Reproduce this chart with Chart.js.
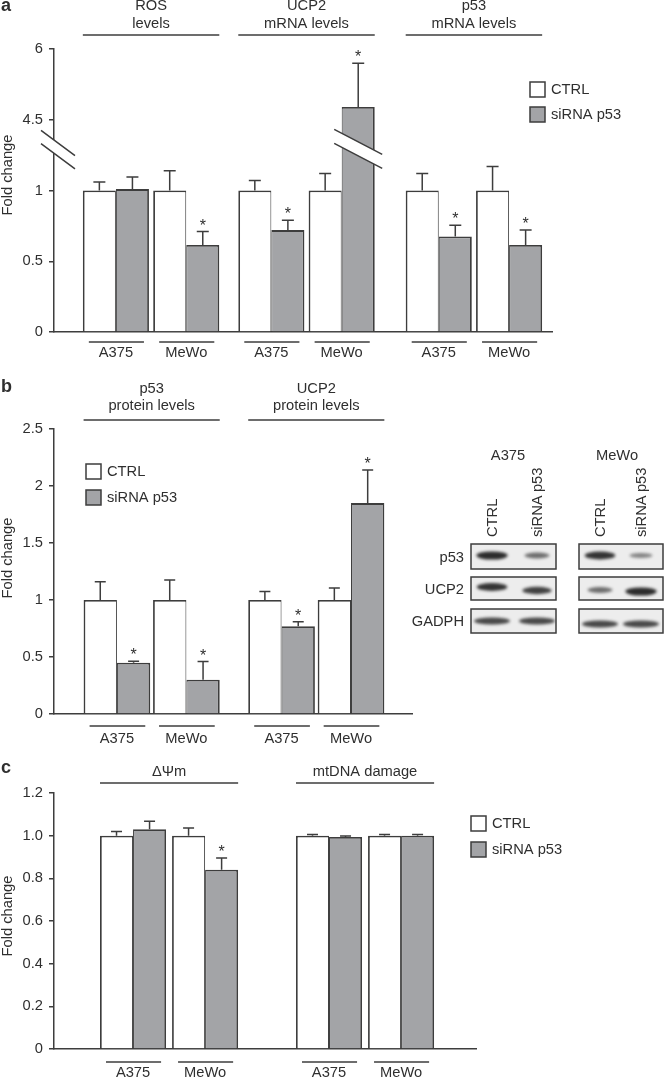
<!DOCTYPE html>
<html>
<head>
<meta charset="utf-8">
<script src="https://cdn.jsdelivr.net/npm/chart.js"></script>
<style>
  body { margin: 0; background: #fff; }
  #fig { position: relative; width: 665px; height: 1080px; font-family: "Liberation Sans", Arial, Helvetica, sans-serif; font-size: 14.7px; color: #2f2f2f; }
  #fig canvas { position: absolute; left: 0; }
  .lbl { position: absolute; line-height: 16px; white-space: nowrap; }
  .rot { position: absolute; line-height: 16px; white-space: nowrap; transform-origin: 0 0; transform: rotate(-90deg); }
</style>
</head>
<body>
<div id="fig">
  <canvas id="chartA" width="665" height="365" style="top:0"></canvas>
  <canvas id="chartB" width="665" height="380" style="top:365px"></canvas>
  <canvas id="chartC" width="665" height="335" style="top:745px"></canvas>
  <canvas id="blot" width="205" height="110" style="left:460px;top:530px"></canvas>
</div>
<script>
// Series
const seriesNames = ['CTRL', 'siRNA p53'];

// Panel a: ROS, UCP2 mRNA, p53 mRNA
const aCells = ['A375', 'MeWo', 'A375', 'MeWo', 'A375', 'MeWo'];
const aGroups = [['ROS', 'levels'], ['UCP2', 'mRNA levels'], ['p53', 'mRNA levels']];
const aCtrl = [1, 1, 1, 1, 1, 1];
const aCtrlErr = [0.06, 0.14, 0.07, 0.12, 0.12, 0.17];
const aSirna = [1.01, 0.615, 0.72, 4.77, 0.675, 0.615];
const aSirnaErr = [0.085, 0.095, 0.07, 0.93, 0.08, 0.105];
const aSirnaStar = [false, true, true, true, true, true];
const aTicks = [0, 0.5, 1, 4.5, 6];

// Panel b: proteinas
const bCells = ['A375', 'MeWo', 'A375', 'MeWo'];
const bGroups = [['p53', 'protein levels'], ['UCP2', 'protein levels']];
const bCtrl = [1, 1, 1, 1];
const bCtrlErr = [0.16, 0.175, 0.075, 0.105];
const bSirna = [0.45, 0.30, 0.77, 1.85];
const bSirnaErr = [0.012, 0.16, 0.04, 0.29];
const bSirnaStar = [true, true, true, true];
const bTicks = [0, 0.5, 1, 1.5, 2, 2.5];

// Panel c: potencial mitocondrial y dano mtDNA
const cCells = ['A375', 'MeWo', 'A375', 'MeWo'];
const cGroups = [['\u0394\u03A8m'], ['mtDNA damage']];
const cCtrl = [1, 1, 1, 1];
const cCtrlErr = [0.02, 0.036, 0.005, 0.005];
const cSirna = [1.03, 0.84, 0.994, 1.0];
const cSirnaErr = [0.037, 0.055, 0.005, 0.005];
const cSirnaStar = [false, true, false, false];
const cTicks = [0, 0.2, 0.4, 0.6, 0.8, 1.0, 1.2];

// Western blot (intensidad relativa de banda: A375 CTRL, A375 siRNA, MeWo CTRL, MeWo siRNA)
const blotCells = ['A375', 'MeWo'];
const blotRows = ['p53', 'UCP2', 'GADPH'];
const bandLevels = [
  [0.95, 0.5, 0.9, 0.35],
  [0.9, 0.8, 0.5, 0.95],
  [0.75, 0.75, 0.75, 0.75]
];

const FONT = '"Liberation Sans", Arial, Helvetica, sans-serif';
const FS = 14.7;
const EDGE = '#3d3d3d';
const GREY = '#a3a4a7';
const TEXT = '#2f2f2f';
const font = (s, w) => `${w || ''} ${s}px ${FONT}`;

Chart.defaults.font.family = FONT;
Chart.defaults.font.size = FS;
Chart.defaults.color = TEXT;

// eje cortado del panel a: por encima de 1.3 se comprime (4.5 -> 1.5, 6 -> 2)
function axisA(v) { return v > 1.3 ? 1.5 + (v - 4.5) / 3 : v; }
const same = v => v;

// Escala de categorias con huecos extra entre pares (A375/MeWo)
class GappedCategory extends Chart.CategoryScale {
  shifted(v) {
    const o = this.options;
    let extra = 0;
    if (v >= 1.5) extra += o.gapA || 0;
    if (v >= 3.5) extra += o.gapB || 0;
    return v + extra;
  }
  getPixelForValue(value) {
    if (typeof value !== 'number') value = this.parse(value);
    if (value === null || isNaN(value)) return NaN;
    const o = this.options;
    const n = this.getLabels().length;
    const span = (n - 1) + (o.gapA || 0) + (o.gapB || 0) + o.padStart + o.padEnd;
    return this.getPixelForDecimal((this.shifted(value) + o.padStart) / span);
  }
}
GappedCategory.id = 'gapped';
GappedCategory.defaults = Chart.CategoryScale.defaults;
Chart.register(GappedCategory);

function hline(ctx, x1, x2, y) {
  ctx.beginPath(); ctx.moveTo(x1, y); ctx.lineTo(x2, y); ctx.stroke();
}

// dos rayas paralelas con banda blanca en medio (corte de eje / barra)
function slashPair(ctx, cx, cy, half, slope, off) {
  ctx.save();
  ctx.fillStyle = '#fff';
  ctx.beginPath();
  ctx.moveTo(cx - half, cy - off - slope * half);
  ctx.lineTo(cx + half, cy - off + slope * half);
  ctx.lineTo(cx + half, cy + off + slope * half);
  ctx.lineTo(cx - half, cy + off - slope * half);
  ctx.closePath();
  ctx.fill();
  ctx.strokeStyle = EDGE;
  ctx.lineWidth = 1.5;
  ctx.beginPath();
  ctx.moveTo(cx - half, cy - off - slope * half); ctx.lineTo(cx + half, cy - off + slope * half);
  ctx.moveTo(cx - half, cy + off - slope * half); ctx.lineTo(cx + half, cy + off + slope * half);
  ctx.stroke();
  ctx.restore();
}

function makeDecor(p) {
  return {
    id: 'decor',
    afterDatasetsDraw(chart) {
      const ctx = chart.ctx;
      const ys = chart.scales.y;
      const sets = [[p.ctrl, p.ctrlErr, null], [p.sirna, p.sirnaErr, p.sirnaStar]];
      ctx.save();
      ctx.strokeStyle = EDGE;
      ctx.lineWidth = 1.5;
      ctx.fillStyle = TEXT;
      ctx.font = font(16);
      ctx.textAlign = 'center';
      ctx.textBaseline = 'alphabetic';
      sets.forEach(([vals, errs, stars], d) => {
        chart.getDatasetMeta(d).data.forEach((bar, i) => {
          const top = ys.getPixelForValue(p.toAxis(vals[i] + errs[i]));
          ctx.beginPath();
          ctx.moveTo(bar.x, bar.y); ctx.lineTo(bar.x, top);
          ctx.moveTo(bar.x - p.cap / 2, top); ctx.lineTo(bar.x + p.cap / 2, top);
          ctx.stroke();
          if (stars && stars[i]) ctx.fillText('*', bar.x, top - 1);
        });
      });
      ctx.restore();
      if (p.barBreak) {
        const bar = chart.getDatasetMeta(1).data[p.barBreak.index];
        slashPair(ctx, bar.x, ys.getPixelForValue(p.barBreak.at), 24, 0.52, 7);
      }
    },
    afterDraw(chart) {
      const ctx = chart.ctx;
      const m0 = chart.getDatasetMeta(0).data;
      const m1 = chart.getDatasetMeta(1).data;
      const edgeL = i => m0[i].x - m0[i].width / 2;
      const edgeR = i => m1[i].x + m1[i].width / 2;
      ctx.save();
      ctx.strokeStyle = EDGE;
      ctx.lineWidth = 1.5;
      ctx.fillStyle = TEXT;
      ctx.font = font(FS);
      ctx.textAlign = 'center';
      ctx.textBaseline = 'middle';

      // cabeceras de grupo
      p.groups.forEach((lines, g) => {
        const l = edgeL(g * 2), r = edgeR(g * 2 + 1);
        hline(ctx, l, r, p.headerLineY);
        lines.forEach((t, k) => ctx.fillText(t, (l + r) / 2, p.headerTextY[k]));
      });

      // subrayado de lineas celulares
      m0.forEach((bar, i) => hline(ctx, edgeL(i) + 6, edgeR(i) - 5, p.underlineY));

      // leyenda
      const lg = p.legend;
      [['#ffffff', seriesNames[0]], [GREY, seriesNames[1]]].forEach(([col, name], k) => {
        const y = lg.y + k * lg.gap;
        ctx.fillStyle = col;
        ctx.fillRect(lg.x, y, 15, 15);
        ctx.strokeRect(lg.x, y, 15, 15);
        ctx.fillStyle = TEXT;
        ctx.textAlign = 'left';
        ctx.fillText(name, lg.x + 21, y + 8);
      });

      // titulo eje y
      ctx.save();
      ctx.translate(8, p.titleY);
      ctx.rotate(-Math.PI / 2);
      ctx.textAlign = 'center';
      ctx.fillText('Fold change', 0, 0);
      ctx.restore();

      // letra del panel
      ctx.font = font(18, 'bold');
      ctx.textAlign = 'left';
      ctx.textBaseline = 'alphabetic';
      ctx.fillText(p.letter, 1, p.letterY);
      ctx.restore();

      // corte del eje y
      if (p.axisBreak) {
        const ys = chart.scales.y;
        slashPair(ctx, ys.right + 4, ys.getPixelForValue(p.axisBreak) + 3, 17, 0.74, 6.6);
      }
    }
  };
}

function makeChart(id, p) {
  return new Chart(document.getElementById(id), {
    type: 'bar',
    data: {
      labels: p.cells,
      datasets: [
        {
          label: seriesNames[0],
          data: p.ctrl.map(p.toAxis),
          backgroundColor: '#ffffff',
          borderColor: EDGE,
          borderWidth: { top: 1.8, left: 1.8, right: 1, bottom: 0 },
          categoryPercentage: p.catPct,
          barPercentage: 1
        },
        {
          label: seriesNames[1],
          data: p.sirna.map(p.toAxis),
          backgroundColor: GREY,
          borderColor: EDGE,
          borderWidth: { top: 1.8, left: 1, right: 1.8, bottom: 0 },
          categoryPercentage: p.catPct,
          barPercentage: 1
        }
      ]
    },
    options: {
      responsive: false,
      animation: false,
      devicePixelRatio: 1,
      events: [],
      layout: { padding: p.padding },
      plugins: { legend: { display: false }, tooltip: { enabled: false } },
      scales: {
        x: {
          type: 'gapped',
          offset: true,
          gapA: p.gapA,
          gapB: p.gapB,
          padStart: p.padStart,
          padEnd: p.padEnd,
          afterFit: s => { s.height = p.xHeight; },
          grid: { display: false, drawTicks: false },
          border: { display: true, color: EDGE, width: 1.5 },
          ticks: {
            autoSkip: false, maxRotation: 0, padding: p.xPad, color: TEXT,
            font: { size: FS },
            callback: function (v) { return this.getLabelForValue(v); }
          }
        },
        y: {
          min: 0,
          max: p.yMax,
          afterFit: s => { s.width = 54; },
          afterBuildTicks: s => { s.ticks = p.ticks.map(t => ({ value: p.toAxis(t) })); },
          grid: { drawOnChartArea: false, drawTicks: true, tickLength: 5, color: EDGE, lineWidth: 1.5 },
          border: { display: true, color: EDGE, width: 1.5 },
          ticks: {
            autoSkip: false, padding: 6, color: TEXT, font: { size: FS },
            callback: (v, i) => p.tickText(p.ticks[i])
          }
        }
      }
    },
    plugins: [makeDecor(p)]
  });
}

makeChart('chartA', {
  cells: aCells, groups: aGroups, ctrl: aCtrl, ctrlErr: aCtrlErr,
  sirna: aSirna, sirnaErr: aSirnaErr, sirnaStar: aSirnaStar,
  ticks: aTicks, tickText: t => String(t), toAxis: axisA, yMax: 2,
  padding: { left: 0, top: 49, right: 113, bottom: 0 }, xHeight: 33, xPad: 12,
  gapA: 0.21, gapB: 0.38, padStart: 0.88, padEnd: 0.61, catPct: 0.94, cap: 12,
  headerLineY: 35, headerTextY: [6, 24], underlineY: 342,
  legend: { x: 530, y: 82, gap: 25 }, titleY: 175, letter: 'a', letterY: 11,
  axisBreak: 1.31, barBreak: { index: 3, at: 1.294 }
});

makeChart('chartB', {
  cells: bCells, groups: bGroups, ctrl: bCtrl, ctrlErr: bCtrlErr,
  sirna: bSirna, sirnaErr: bSirnaErr, sirnaStar: bSirnaStar,
  ticks: bTicks, tickText: t => String(t), toAxis: same, yMax: 2.5,
  padding: { left: 0, top: 64, right: 253, bottom: 0 }, xHeight: 31, xPad: 16,
  gapA: 0.37, padStart: 0.906, padEnd: 0.878, catPct: 0.96, cap: 11,
  headerLineY: 55, headerTextY: [24, 41], underlineY: 361,
  legend: { x: 86, y: 99, gap: 26 }, titleY: 193, letter: 'b', letterY: 27
});

makeChart('chartC', {
  cells: cCells, groups: cGroups, ctrl: cCtrl, ctrlErr: cCtrlErr,
  sirna: cSirna, sirnaErr: cSirnaErr, sirnaStar: cSirnaStar,
  ticks: cTicks, tickText: t => (t === 0 ? '0' : t.toFixed(1)), toAxis: same, yMax: 1.2,
  padding: { left: 0, top: 48, right: 189, bottom: 0 }, xHeight: 31, xPad: 15,
  gapA: 0.72, padStart: 1.097, padEnd: 1.04, catPct: 0.917, cap: 11,
  headerLineY: 38, headerTextY: [27], underlineY: 317,
  legend: { x: 471, y: 71, gap: 26 }, titleY: 171, letter: 'c', letterY: 28
});

// Western blot del panel b
function drawBlot() {
  const fig = document.getElementById('fig');
  const addText = (cls, text, style) => {
    const d = document.createElement('div');
    d.className = cls;
    d.textContent = text;
    Object.assign(d.style, style);
    fig.appendChild(d);
  };
  const frames = [{ x0: 471, x1: 556, lanes: [492, 537], head: 508 }, { x0: 579, x1: 663, lanes: [600, 641], head: 617 }];
  const rows = [{ y0: 544, y1: 569, dy: [-1, -1, -1, -1] }, { y0: 577, y1: 600, dy: [-1.5, 2, 1.5, 3] }, { y0: 609, y1: 633, dy: [0, 0, 3, 3] }];

  frames.forEach((f, fi) => {
    addText('lbl', blotCells[fi], { left: (f.head - 40) + 'px', width: '80px', textAlign: 'center', top: '447px' });
    f.lanes.forEach((cx, li) => {
      addText('rot', seriesNames[li], { left: (cx - 8) + 'px', top: '537px' });
    });
  });
  blotRows.forEach((name, ri) => {
    const r = rows[ri];
    addText('lbl', name, { right: (665 - 464) + 'px', top: ((r.y0 + r.y1) / 2 - 8) + 'px' });
  });

  const ctx = document.getElementById('blot').getContext('2d');
  ctx.translate(-460, -530);
  frames.forEach((f, fi) => rows.forEach((r, ri) => {
    ctx.fillStyle = '#ededed';
    ctx.fillRect(f.x0, r.y0, f.x1 - f.x0, r.y1 - r.y0);
    ctx.save();
    ctx.beginPath();
    ctx.rect(f.x0, r.y0, f.x1 - f.x0, r.y1 - r.y0);
    ctx.clip();
    ctx.filter = 'blur(1.6px)';
    f.lanes.forEach((cx, li) => {
      const k = bandLevels[ri][fi * 2 + li];
      const yc = (r.y0 + r.y1) / 2 + r.dy[fi * 2 + li];
      const hw = ri === 2 ? 18 : 9 + 7 * k;
      ctx.fillStyle = `rgba(25,25,25,${0.25 + 0.7 * k})`;
      ctx.beginPath();
      ctx.ellipse(cx, yc, hw, 1.6 + 2.6 * k, 0, 0, Math.PI * 2);
      ctx.fill();
    });
    ctx.restore();
    ctx.strokeStyle = EDGE;
    ctx.lineWidth = 1.5;
    ctx.strokeRect(f.x0, r.y0, f.x1 - f.x0, r.y1 - r.y0);
  }));
}
drawBlot();
</script>
</body>
</html>
